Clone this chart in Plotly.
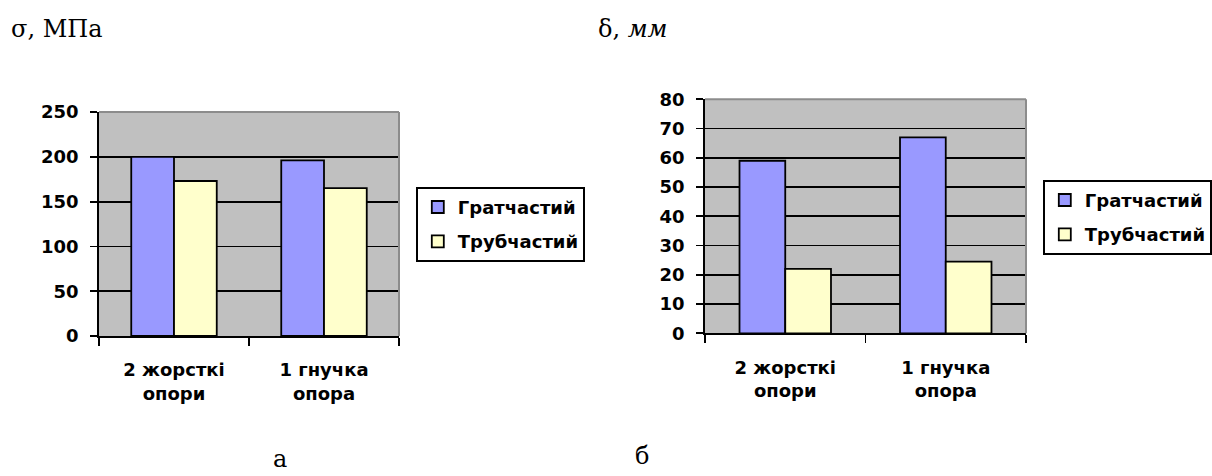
import plotly.graph_objects as go

# ---- data ----
categories = ["2 жорсткі опори", "1 гнучка опора"]
tick_labels = ["2 жорсткі<br>опори", "1 гнучка<br>опора"]
series_names = ["Гратчастий", "Трубчастий"]
stress_grat = [200, 196]
stress_trub = [173, 165]
defl_grat = [59, 67]
defl_trub = [22, 24.5]
stress_ticks = [0, 50, 100, 150, 200, 250]
defl_ticks = [0, 10, 20, 30, 40, 50, 60, 70, 80]

W, H = 1212, 476
BLUE = "#9999FF"
YELLOW = "#FFFFCC"
GRID = "#C0C0C0"
TICKFONT = dict(family="DejaVu Sans", size=18, color="black", weight="bold")
LW = 1.8

fig = go.Figure()

def px_x(v):
    return v / W

def px_y(v):
    return (H - v) / H

panels = [
    dict(xa="x", ya="y", vals=(stress_grat, stress_trub), legend="legend"),
    dict(xa="x2", ya="y2", vals=(defl_grat, defl_trub), legend="legend2"),
]
colors = [BLUE, YELLOW]
for p in panels:
    for name, vals, col in zip(series_names, p["vals"], colors):
        fig.add_trace(go.Bar(
            x=categories, y=vals, name=name, xaxis=p["xa"], yaxis=p["ya"],
            marker=dict(color=col, line=dict(color="black", width=LW)),
            legend=p["legend"], legendgroup=p["legend"] + name, hoverinfo="skip",
        ))

xcommon = dict(
    type="category", tickmode="array", tickvals=categories, ticktext=tick_labels,
    showline=True, linecolor="black", linewidth=LW, ticks="outside",
    tickson="boundaries", ticklen=8, tickwidth=LW, tickcolor="black",
    showgrid=False, tickfont=TICKFONT, ticklabelstandoff=17, fixedrange=True,
    automargin=False,
)
ycommon = dict(
    showline=True, linecolor="black", linewidth=LW, ticks="outside",
    ticklen=7, tickwidth=LW, tickcolor="black", showgrid=True,
    gridcolor="black", gridwidth=LW, zeroline=False, tickfont=TICKFONT,
    ticklabelstandoff=8, fixedrange=True, automargin=False,
)

LEGFONT = dict(family="DejaVu Sans", size=18, color="black", weight="bold")
fig.update_layout(
    width=W, height=H, margin=dict(l=0, r=0, t=0, b=0, autoexpand=False),
    paper_bgcolor="white", plot_bgcolor=GRID,
    barmode="group", bargap=0.43, bargroupgap=0,
    showlegend=True,
    xaxis=dict(domain=[px_x(99), px_x(399)], anchor="y", **xcommon),
    yaxis=dict(domain=[px_y(336), px_y(112)], anchor="x", range=[0, 250],
               tickvals=stress_ticks, **ycommon),
    xaxis2=dict(domain=[px_x(705), px_x(1026)], anchor="y2", **xcommon),
    yaxis2=dict(domain=[px_y(333.3), px_y(99.3)], anchor="x2", range=[0, 80],
                tickvals=defl_ticks, **ycommon),
    legend=dict(x=px_x(416), y=px_y(187), xanchor="left", yanchor="top",
                bgcolor="white", bordercolor="black", borderwidth=LW,
                font=LEGFONT, traceorder="grouped", tracegroupgap=8,
                itemclick=False, itemdoubleclick=False),
    legend2=dict(x=px_x(1043), y=px_y(180), xanchor="left", yanchor="top",
                 bgcolor="white", bordercolor="black", borderwidth=LW,
                 font=LEGFONT, traceorder="grouped", tracegroupgap=8,
                 itemclick=False, itemdoubleclick=False),
)

# gray border on top and right of each plot area
shapes = []
for xa, ya in (("x", "y"), ("x2", "y2")):
    shapes.append(dict(type="line", xref=f"{xa} domain", yref=f"{ya} domain",
                       x0=0, x1=1, y0=1, y1=1, line=dict(color="#8C8C8C", width=2),
                       layer="above"))
    shapes.append(dict(type="line", xref=f"{xa} domain", yref=f"{ya} domain",
                       x0=1, x1=1, y0=0, y1=1, line=dict(color="#8C8C8C", width=2),
                       layer="above"))
fig.update_layout(shapes=shapes)

SERIF = dict(family="DejaVu Serif", size=24, color="black")
annotations = [
    dict(text="σ, МПа", x=px_x(9), y=px_y(29), xanchor="left", yanchor="middle",
         xref="paper", yref="paper", showarrow=False, font=SERIF),
    dict(text="δ, <i>мм</i>", x=px_x(596), y=px_y(29), xanchor="left", yanchor="middle",
         xref="paper", yref="paper", showarrow=False, font=SERIF),
    dict(text="а", x=px_x(280), y=px_y(459), xanchor="center", yanchor="middle",
         xref="paper", yref="paper", showarrow=False, font=SERIF),
    dict(text="б", x=px_x(642), y=px_y(456), xanchor="center", yanchor="middle",
         xref="paper", yref="paper", showarrow=False, font=SERIF),
]
fig.update_layout(annotations=annotations)

fig.write_html(
    "out.html",
    config=dict(displayModeBar=False, staticPlot=True),
    post_script="document.body.style.margin='0';document.body.style.padding='0';",
)
